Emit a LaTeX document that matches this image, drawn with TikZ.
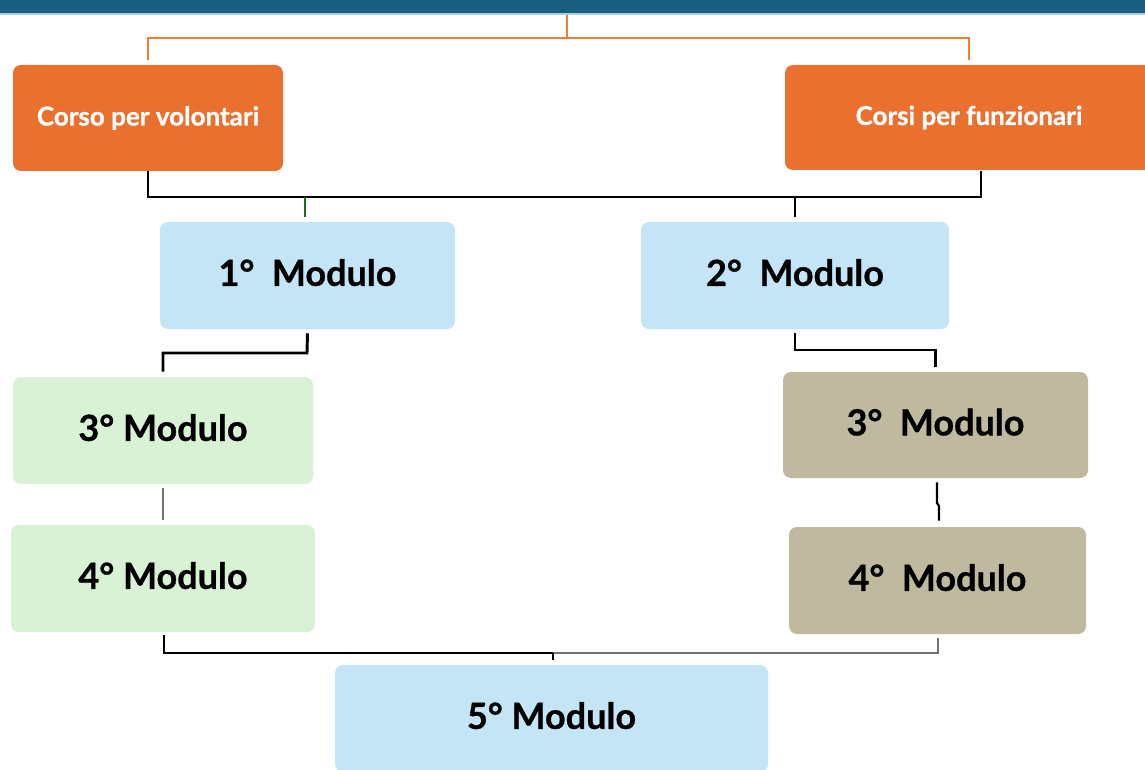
\documentclass[tikz,border=0pt]{standalone}
\usepackage{fontspec}
\setmainfont{Lato}[BoldFeatures={FakeBold=0.8}]
\definecolor{barblue}{HTML}{1A5E80}
\definecolor{barline}{HTML}{A9CFE4}
\definecolor{orangebox}{HTML}{E9702F}
\definecolor{orangeline}{HTML}{ED7D31}
\definecolor{lightblue}{HTML}{C3E5F5}
\definecolor{lightgreen}{HTML}{D9F1D4}
\definecolor{khaki}{HTML}{BEB99F}
\definecolor{darkgreenline}{HTML}{1E6B1E}
\definecolor{grayline}{HTML}{707070}
\newcommand{\mtxt}[1]{\raisebox{4.5pt}{#1}}
\tikzset{
  box/.style={rectangle, rounded corners=6pt, inner sep=0pt, draw=none, align=center},
  orangebx/.style={box, fill=orangebox, text=white, font=\fontsize{19.5}{22}\selectfont\bfseries},
  modbx/.style={box, font=\fontsize{27}{30}\selectfont\bfseries, text=black},
  conn/.style={line width=2.2pt, black},
  oconn/.style={line width=1.8pt, orangeline},
  gconn/.style={line width=1.5pt, grayline},
}
\begin{document}
\begin{tikzpicture}[x=0.75pt, y=-0.75pt]
\useasboundingbox (0,0) rectangle (1145,770);
\clip (0,0) rectangle (1145,770);
\fill[white] (0,0) rectangle (1145,770);
% top bar
\node[rectangle, fill=barblue, inner sep=0pt, minimum width=858.75pt, minimum height=9.75pt, anchor=north west] (bar) at (0,0) {};
\fill[barline] (0,13) rectangle (1145,15);
\coordinate (top) at (567,15);
% nodes
\node[orangebx, minimum width=202.5pt, minimum height=79.5pt] (vol) at (148,118) {Corso per volontari};
\node[orangebx, minimum width=276pt, minimum height=78.75pt] (fun) at (969,117.5) {Corsi per funzionari};
\node[modbx, fill=lightblue, minimum width=221.25pt, minimum height=80.25pt] (m1) at (307.5,275.5) {\mtxt{1°\ \ Modulo}};
\node[modbx, fill=lightblue, minimum width=231pt, minimum height=80.25pt] (m2) at (795,275.5) {\mtxt{2°\ \ Modulo}};
\node[modbx, fill=lightgreen, minimum width=225pt, minimum height=80.25pt] (m3l) at (163,430.5) {\mtxt{3° Modulo}};
\node[modbx, fill=lightgreen, minimum width=228pt, minimum height=80.25pt] (m4l) at (163,578.5) {\mtxt{4° Modulo}};
\node[modbx, fill=khaki, minimum width=228.75pt, minimum height=79.5pt] (m3r) at (935.5,425) {\mtxt{3°\ \ Modulo}};
\node[modbx, fill=khaki, minimum width=222.75pt, minimum height=80.25pt] (m4r) at (937.5,580.5) {\mtxt{4°\ \ Modulo}};
\node[modbx, fill=lightblue, minimum width=324.75pt, minimum height=80.25pt] (m5) at (551.5,718.5) {\mtxt{5° Modulo}};
% orange connectors
\coordinate (ojoin) at (567,38);
\draw[oconn] (top) -- (ojoin);
\draw[oconn] (ojoin) -| ([yshift=3.75pt]vol.north);
\draw[oconn] (ojoin) -| ([yshift=3.75pt]fun.north);
% black connector under orange boxes
\coordinate (j1) at (148,197);
\coordinate (j2) at (981,197);
\coordinate (fjoin) at (981,171);
\draw[conn] (vol.south) -- (j1) -- (j2) -- (fjoin);
\draw[line width=1.8pt, darkgreenline] (j1 -| 305,0) -- ([yshift=3.75pt]m1.north -| 305,0);
\draw[conn] (j1 -| m2.north) -- ([yshift=3.75pt]m2.north);
% 1 -> 3 left
\coordinate (k1) at (307,353);
\draw[conn] ([yshift=-3pt]m1.south) -- (k1) -| ([yshift=3.75pt]m3l.north);
% 2 -> 3 right
\coordinate (k2) at (795,350);
\draw[conn] ([yshift=-3pt]m2.south) -- (k2) -| ([yshift=3.75pt]m3r.north);
% 3 -> 4 left
\draw[gconn] ([yshift=-3pt]m3l.south) -- ([yshift=3.75pt]m4l.north);
% 3 -> 4 right (jog)
\coordinate (r1) at (937,503);
\coordinate (r2) at (939,506);
\draw[conn, line width=1.6pt] ([yshift=-3pt]m3r.south -| r1) -- (r1) -- (r2) -- ([yshift=4.5pt]m4r.north -| r2);
% 4 -> 5
\coordinate (b1) at (164,653);
\coordinate (b2) at (553,653);
\coordinate (b3) at (938,653);
\draw[conn] ([yshift=-2.25pt]m4l.south -| b1) -- (b1) -- (b2);
\draw[gconn] (b2) -- (b3) -- ([yshift=-3pt]m4r.south -| b3);
\draw[line width=1.2pt] (b2) -- ([yshift=3.75pt]m5.north -| b2);
\end{tikzpicture}
\end{document}
